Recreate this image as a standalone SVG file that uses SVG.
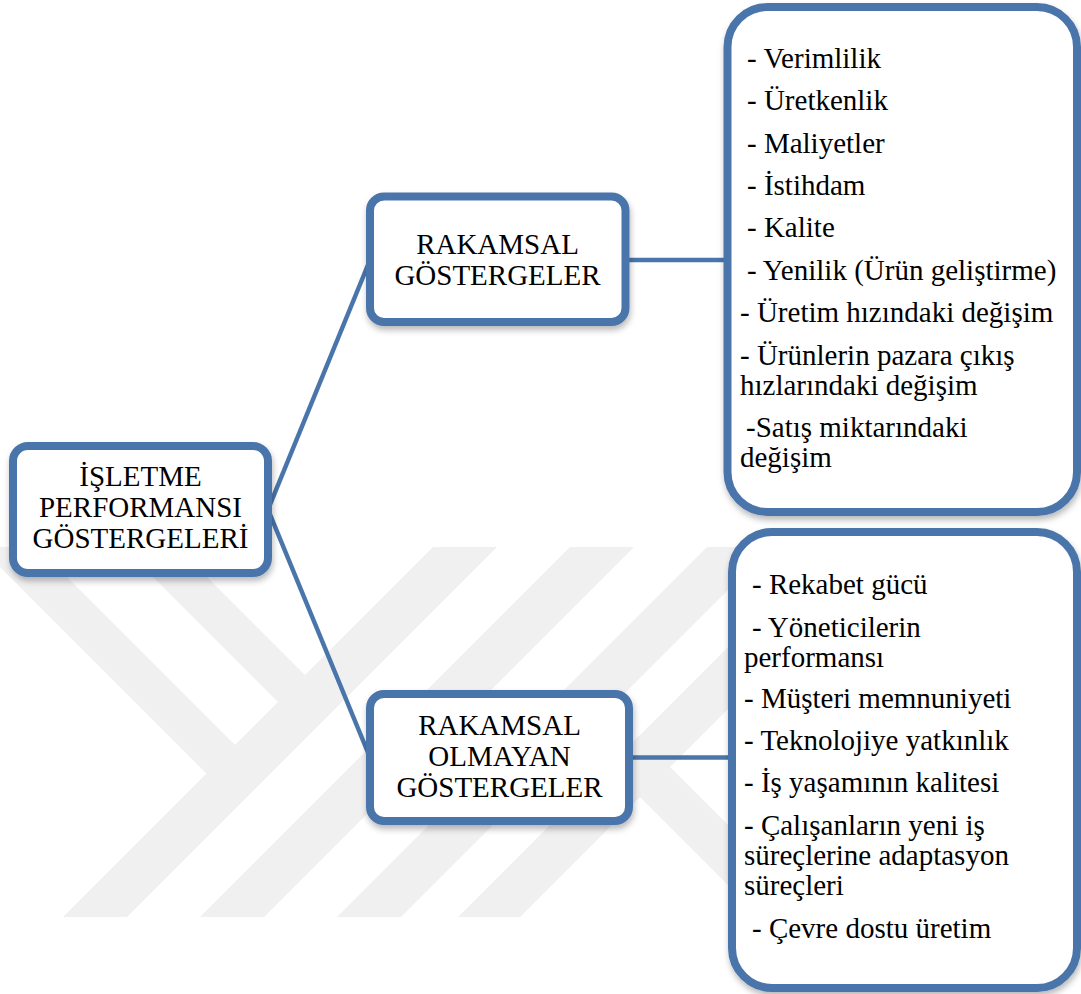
<svg xmlns="http://www.w3.org/2000/svg" width="1081" height="994" viewBox="0 0 1081 994">
  <defs>
    <style>
      .wm { fill: #f0f0f0; }
      .box { fill: #ffffff; stroke: #4a75ab; stroke-width: 8; filter: url(#shadow); }
      .conn { stroke: #4a75ab; stroke-width: 4.5; fill: none; stroke-linecap: butt; }
      .t { font-family: "Liberation Serif", "Times New Roman", serif; font-size: 29px; fill: #000000; }
      .c { text-anchor: middle; }
    </style>
    <filter id="shadow" x="-10%" y="-10%" width="125%" height="130%">
      <feDropShadow dx="1" dy="4" stdDeviation="3" flood-color="#000000" flood-opacity="0.28"/>
    </filter>
  </defs>
  <rect x="0" y="0" width="1081" height="994" fill="#ffffff"/>

  <g id="watermark">
    <polygon class="wm" points="63,917 127,917 497,547 433,547"/>
    <polygon class="wm" points="200,917 264,917 634,547 570,547"/>
    <polygon class="wm" points="337,917 401,917 771,547 707,547"/>
    <polygon class="wm" points="458,917 520,917 890,547 828,547"/>
    <polygon class="wm" points="-20,547 37,547 237.5,747.5 209,776"/>
    <polygon class="wm" points="123,547 177,547 307.5,677.5 280.5,704.5"/>
    <polygon class="wm" points="609,766 639,736 820,917 760,917"/>
  </g>

  <g id="connectors">
    <line class="conn" x1="268" y1="509.5" x2="370" y2="260"/>
    <line class="conn" x1="268" y1="509.5" x2="370" y2="757.5"/>
    <line class="conn" x1="625" y1="260" x2="727.5" y2="260"/>
    <line class="conn" x1="629" y1="757.5" x2="732" y2="757.5"/>
  </g>

  <g id="node-root">
    <rect class="box" x="13" y="446" width="255" height="127" rx="15" ry="15"/>
    <text class="t c" x="140.5" y="486">İŞLETME</text>
    <text class="t c" x="140.5" y="517">PERFORMANSI</text>
    <text class="t c" x="140.5" y="548">GÖSTERGELERİ</text>
  </g>

  <g id="node-rakamsal">
    <rect class="box" x="370" y="196.5" width="255.5" height="125.5" rx="14" ry="14"/>
    <text class="t c" x="497.5" y="254">RAKAMSAL</text>
    <text class="t c" x="497.5" y="285">GÖSTERGELER</text>
  </g>

  <g id="node-rakamsal-olmayan">
    <rect class="box" x="370" y="694" width="259" height="127" rx="14" ry="14"/>
    <text class="t c" x="499.5" y="735">RAKAMSAL</text>
    <text class="t c" x="499.5" y="766">OLMAYAN</text>
    <text class="t c" x="499.5" y="797">GÖSTERGELER</text>
  </g>

  <g id="node-list-rakamsal">
    <rect class="box" x="727.5" y="7" width="349.5" height="505" rx="40" ry="40"/>
    <text class="t" x="747" y="68">- Verimlilik</text>
    <text class="t" x="747" y="110">- Üretkenlik</text>
    <text class="t" x="747" y="153">- Maliyetler</text>
    <text class="t" x="747" y="195">- İstihdam</text>
    <text class="t" x="747" y="237">- Kalite</text>
    <text class="t" x="747" y="280">- Yenilik (Ürün geliştirme)</text>
    <text class="t" x="740" y="322">- Üretim hızındaki değişim</text>
    <text class="t" x="740" y="365">- Ürünlerin pazara çıkış</text>
    <text class="t" x="740" y="395">hızlarındaki değişim</text>
    <text class="t" x="746" y="437">-Satış miktarındaki</text>
    <text class="t" x="740" y="467">değişim</text>
  </g>

  <g id="node-list-olmayan">
    <rect class="box" x="732" y="532" width="345" height="456" rx="40" ry="40"/>
    <text class="t" x="752" y="594">- Rekabet gücü</text>
    <text class="t" x="752" y="637">- Yöneticilerin</text>
    <text class="t" x="744" y="667">performansı</text>
    <text class="t" x="744" y="708">- Müşteri memnuniyeti</text>
    <text class="t" x="744" y="750">- Teknolojiye yatkınlık</text>
    <text class="t" x="744" y="792">- İş yaşamının kalitesi</text>
    <text class="t" x="744" y="835">- Çalışanların yeni iş</text>
    <text class="t" x="744" y="865">süreçlerine adaptasyon</text>
    <text class="t" x="744" y="895">süreçleri</text>
    <text class="t" x="752" y="938">- Çevre dostu üretim</text>
  </g>
</svg>
